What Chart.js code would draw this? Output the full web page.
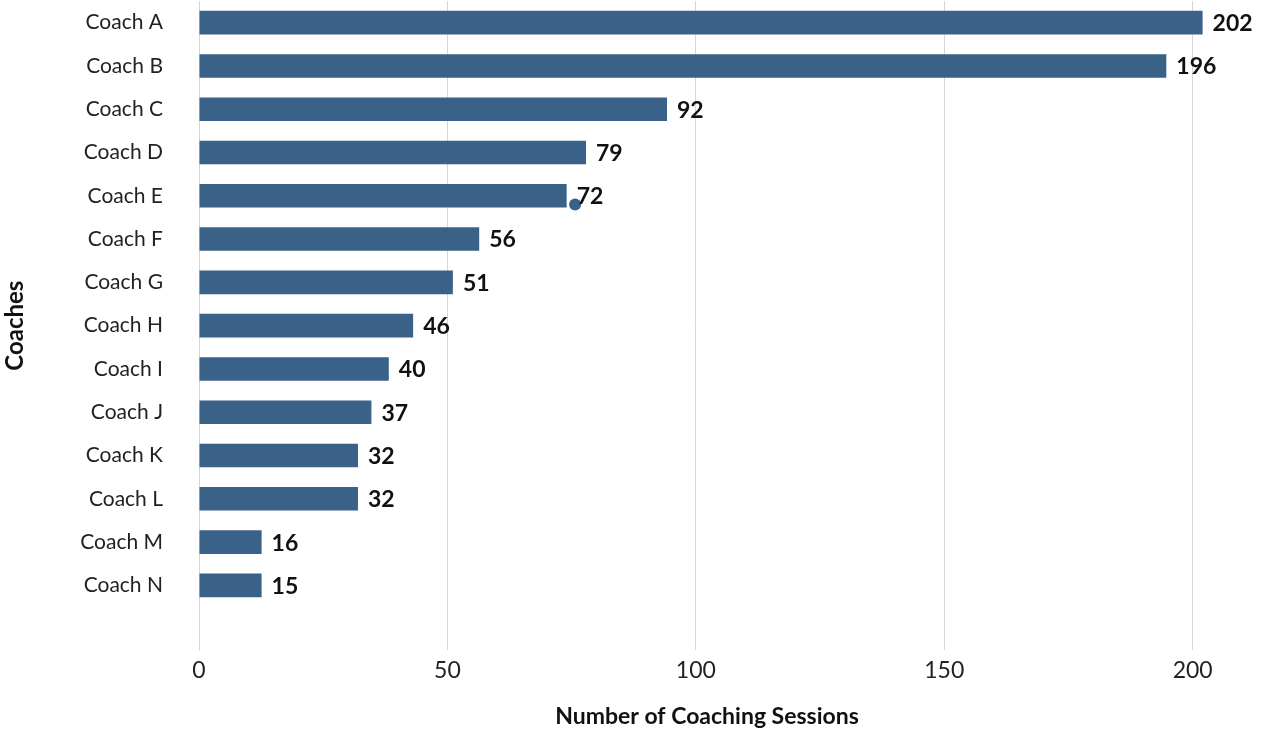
<!DOCTYPE html>
<html>
<head>
<meta charset="utf-8">
<script src="https://cdn.jsdelivr.net/npm/chart.js@4.4.1/dist/chart.umd.min.js"></script>
<style>
  html, body { margin: 0; padding: 0; background: #fff; }
  #wrap { width: 1262px; height: 732px; }
</style>
</head>
<body>
<div id="wrap"><canvas id="grafico"></canvas></div>
<script>
// Datos
const coaches = ["Coach A", "Coach B", "Coach C", "Coach D", "Coach E", "Coach F", "Coach G",
  "Coach H", "Coach I", "Coach J", "Coach K", "Coach L", "Coach M", "Coach N"];
// largo de cada barra (tal como se dibuja)
const sesiones = [202, 194.7, 94.2, 77.9, 74, 56.4, 51.1, 43.1, 38.2, 34.7, 32, 32, 12.6, 12.6];
// texto que aparece junto a cada barra
const etiquetas = ["202", "196", "92", "79", "72", "56", "51", "46", "40", "37", "32", "32", "16", "15"];
// punto suelto junto a Coach E (y en unidades de fila)
const puntoX = [75.7];
const puntoY = [4.2];
const ticksX = [0, 50, 100, 150, 200];

const azul = "#3a6187";
const fuente = "Lato, 'Noto Sans', sans-serif";

// etiquetas al final de cada barra
const etiquetasPlugin = {
  id: "etiquetas",
  afterDatasetsDraw(chart) {
    const ctx = chart.ctx;
    const meta = chart.getDatasetMeta(0);
    ctx.save();
    ctx.font = "bold 23px " + fuente;
    ctx.fillStyle = "#111";
    ctx.textBaseline = "middle";
    meta.data.forEach((bar, i) => {
      ctx.fillText(etiquetas[i], bar.x + 10, bar.y + 1);
    });
    ctx.restore();
  },
};

new Chart(document.getElementById("grafico"), {
  type: "bar",
  data: {
    datasets: [
      {
        data: sesiones.map((v, i) => ({ x: v, y: i })),
        backgroundColor: azul,
        borderWidth: 0,
        grouped: false,
        categoryPercentage: 1,
        barPercentage: 0.545,
        order: 1,
      },
      {
        type: "scatter",
        indexAxis: "x",
        data: puntoX.map((x, i) => ({ x: x, y: puntoY[i] })),
        backgroundColor: azul,
        borderWidth: 0,
        pointRadius: 6,
        order: 0,
      },
    ],
  },
  options: {
    indexAxis: "y",
    responsive: true,
    maintainAspectRatio: false,
    animation: false,
    layout: {
      autoPadding: false,
      padding: { top: 1, right: 47, left: 0, bottom: 0 },
    },
    plugins: {
      legend: { display: false },
      tooltip: { enabled: false },
    },
    scales: {
      x: {
        type: "linear",
        min: 0,
        max: 204.5,
        afterBuildTicks: (s) => {
          s.ticks = ticksX.map((v) => ({ value: v }));
        },
        grid: { color: "#d6d6d6", drawTicks: false },
        border: { display: false },
        ticks: {
          padding: 6,
          color: "#222",
          font: { family: fuente, size: 23 },
        },
        title: {
          display: true,
          text: "Number of Coaching Sessions",
          color: "#111",
          font: { family: fuente, size: 23, weight: "bold" },
          padding: { top: 12.5, bottom: 2 },
        },
      },
      y: {
        type: "linear",
        offset: false,
        min: -0.5,
        max: 14.5, // una fila vacia debajo de Coach N
        reverse: true,
        afterBuildTicks: (s) => {
          s.ticks = coaches.map((c, i) => ({ value: i }));
        },
        grid: { display: false, offset: false },
        border: { display: true, color: "#d6d6d6" },
        afterFit: (s) => {
          s.width = 199;
          s.paddingTop = 0;
          s.paddingBottom = 0;
        },
        ticks: {
          padding: 28,
          color: "#222",
          font: { family: fuente, size: 21 },
          callback: (v) => coaches[v],
        },
        title: {
          display: true,
          text: "Coaches",
          color: "#111",
          font: { family: fuente, size: 24, weight: "bold" },
          padding: { top: 1, bottom: 0 },
        },
      },
    },
  },
  plugins: [etiquetasPlugin],
});
</script>
</body>
</html>
